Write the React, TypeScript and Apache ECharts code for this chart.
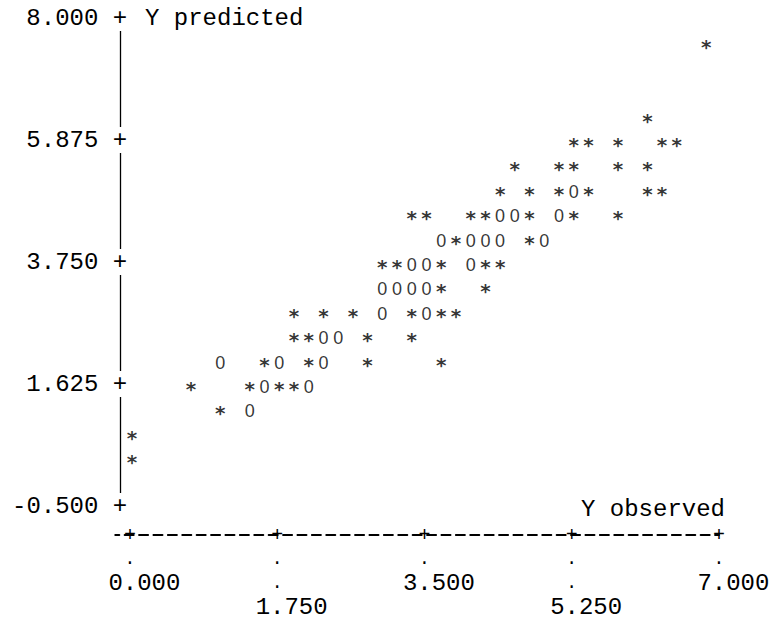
import React, { useEffect, useRef } from "react";
import * as echarts from "echarts";

// Plotted characters of the line-printer plot: [Y observed, Y predicted]
const starPoints: [number, number][] = [
  [0, 0.35], [0, 0.775],
  [1.05, 1.2],
  [0.7, 1.625], [1.4, 1.625], [1.75, 1.625], [1.925, 1.625],
  [1.575, 2.05], [2.1, 2.05], [2.8, 2.05], [3.675, 2.05],
  [1.925, 2.475], [2.1, 2.475], [2.8, 2.475], [3.325, 2.475],
  [1.925, 2.9], [2.275, 2.9], [2.625, 2.9], [3.325, 2.9], [3.675, 2.9], [3.85, 2.9],
  [3.675, 3.325], [4.2, 3.325],
  [2.975, 3.75], [3.15, 3.75], [3.675, 3.75], [4.2, 3.75], [4.375, 3.75],
  [3.85, 4.175], [4.725, 4.175],
  [3.325, 4.6], [3.5, 4.6], [4.025, 4.6], [4.2, 4.6], [4.725, 4.6], [5.25, 4.6], [5.775, 4.6],
  [4.375, 5.025], [4.725, 5.025], [5.075, 5.025], [5.425, 5.025], [6.125, 5.025], [6.3, 5.025],
  [4.55, 5.45], [5.075, 5.45], [5.25, 5.45], [5.775, 5.45], [6.125, 5.45],
  [5.25, 5.875], [5.425, 5.875], [5.775, 5.875], [6.3, 5.875], [6.475, 5.875],
  [6.125, 6.3],
  [6.825, 7.575],
];

const zeroPoints: [number, number][] = [
  [1.4, 1.2],
  [1.575, 1.625], [2.1, 1.625],
  [1.05, 2.05], [1.75, 2.05], [2.275, 2.05],
  [2.275, 2.475], [2.45, 2.475],
  [2.975, 2.9], [3.5, 2.9],
  [2.975, 3.325], [3.15, 3.325], [3.325, 3.325], [3.5, 3.325],
  [3.325, 3.75], [3.5, 3.75], [4.025, 3.75],
  [3.675, 4.175], [4.025, 4.175], [4.2, 4.175], [4.375, 4.175], [4.9, 4.175],
  [4.375, 4.6], [4.55, 4.6], [5.075, 4.6],
  [5.25, 5.025],
];

const yTickValues = [-0.5, 1.625, 3.75, 5.875, 8];
const xTickValues = [0, 1.75, 3.5, 5.25, 7];
const xUpperLabels = [0, 3.5, 7];
const xLowerLabels = [1.75, 5.25];

const MONO = "'Liberation Mono', 'Courier New', monospace";
const STAR_FONT = "'DejaVu Sans', sans-serif";
const SANS = "'Liberation Sans', Arial, sans-serif";
const INK = "#000";
const FS = 24;
const CW = FS * 0.6;

export default function App() {
  const ref = useRef<HTMLDivElement>(null);

  useEffect(() => {
    if (!ref.current) return;
    const chart = echarts.init(ref.current, undefined, { renderer: "svg" });
    const textBase = { fontFamily: MONO, fontSize: FS, color: INK };
    const hiddenAxis = {
      type: "value",
      min: -0.175,
      max: 7,
      position: "bottom",
      offset: 29,
      axisLine: { show: false, onZero: false },
      axisTick: { show: false },
      splitLine: { show: false },
    };
    const dotLabel = (values: number[], margin: number) => ({
      fontFamily: MONO,
      fontSize: 18,
      color: INK,
      customValues: values,
      margin,
      align: "center",
      verticalAlign: "middle",
      formatter: () => ".",
    });
    const numberLabel = (values: number[], margin: number) => ({
      ...textBase,
      customValues: values,
      margin,
      align: "center",
      verticalAlign: "middle",
      padding: [0, 0, 0, 2 * CW],
      formatter: (v: number) => v.toFixed(3),
    });
    chart.setOption({
      animation: false,
      backgroundColor: "#fff",
      grid: { left: 115.27, right: 53, top: 18, bottom: 117, outerBoundsMode: "none", containLabel: false },
      xAxis: [
        {
          type: "value",
          min: -0.175,
          max: 7,
          position: "bottom",
          offset: 29,
          name: "Y observed",
          nameLocation: "end",
          nameGap: 6,
          nameMoveOverlap: false,
          nameTextStyle: {
            ...textBase,
            align: "right",
            verticalAlign: "bottom",
            lineHeight: 52,
          },
          axisLine: {
            show: true,
            onZero: false,
            lineStyle: { color: INK, width: 2, type: [9, CW - 9], dashOffset: 4.5 },
          },
          axisTick: { show: false },
          splitLine: { show: false },
          axisLabel: {
            fontFamily: MONO,
            fontSize: 20,
            color: INK,
            customValues: xTickValues,
            margin: 0,
            align: "center",
            verticalAlign: "middle",
            formatter: () => "+",
          },
        },
        { ...hiddenAxis, axisLabel: dotLabel(xTickValues, 24) },
        { ...hiddenAxis, axisLabel: numberLabel(xUpperLabels, 48) },
        { ...hiddenAxis, axisLabel: dotLabel(xLowerLabels, 48) },
        { ...hiddenAxis, axisLabel: numberLabel(xLowerLabels, 72) },
      ],
      yAxis: {
        type: "value",
        min: -0.5,
        max: 8,
        offset: -4.73,
        name: "Y predicted",
        nameLocation: "end",
        nameGap: 0,
        nameMoveOverlap: false,
        nameTextStyle: {
          ...textBase,
          align: "left",
          verticalAlign: "middle",
          padding: [0, 0, 0, 25],
        },
        axisLine: { show: true, onZero: false, lineStyle: { color: INK, width: 1.3 } },
        axisTick: { show: false },
        splitLine: { show: false },
        axisLabel: {
          ...textBase,
          customValues: yTickValues,
          margin: -7.2,
          lineHeight: 26,
          backgroundColor: "#fff",
          formatter: (v: number) => v.toFixed(3) + " +",
        },
      },
      series: [
        {
          type: "scatter",
          name: "*",
          data: starPoints,
          symbol: "circle",
          symbolSize: 1,
          itemStyle: { color: "rgba(0,0,0,0)" },
          label: {
            show: true,
            position: "inside",
            formatter: "*",
            fontFamily: STAR_FONT,
            fontWeight: "bold",
            fontSize: 20,
            lineHeight: 20,
            color: INK,
            offset: [2, 5],
          },
          emphasis: { disabled: true },
        },
        {
          type: "scatter",
          name: "0",
          data: zeroPoints,
          symbol: "circle",
          symbolSize: 1,
          itemStyle: { color: "rgba(0,0,0,0)" },
          label: {
            show: true,
            position: "inside",
            formatter: "0",
            fontFamily: SANS,
            fontSize: 18,
            lineHeight: 18,
            color: INK,
            offset: [2, 3],
          },
          emphasis: { disabled: true },
        },
      ],
    });
    return () => chart.dispose();
  }, []);

  return (
    <div
      ref={ref}
      style={{ position: "fixed", left: 0, top: 0, width: 772, height: 623, background: "#fff" }}
    />
  );
}
